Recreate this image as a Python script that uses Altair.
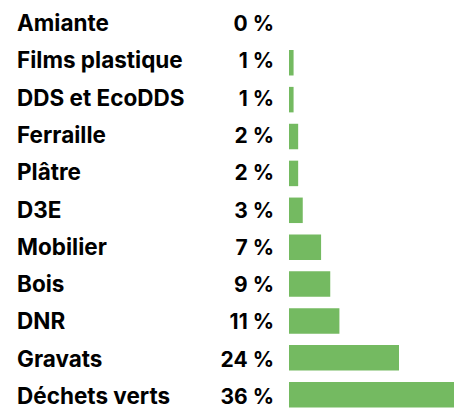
import altair as alt
import pandas as pd

categories = ["Amiante", "Films plastique", "DDS et EcoDDS", "Ferraille", "Plâtre",
              "D3E", "Mobilier", "Bois", "DNR", "Gravats", "Déchets verts"]
values = [0, 1, 1, 2, 2, 3, 7, 9, 11, 24, 36]
labels = ["0 %", "1 %", "1 %", "2 %", "2 %", "3 %", "7 %", "9 %", "11 %", "24 %", "36 %"]

df = pd.DataFrame({"cat": categories, "val": values, "lab": labels})

FONT = "Inter"

bars = alt.Chart(df).mark_bar(color="#74BA61", size=25.5).encode(
    x=alt.X("val:Q", scale=alt.Scale(domain=[0, 36], range=[289, 454]), axis=None),
    y=alt.Y("cat:N", sort=categories, scale=alt.Scale(type="point", range=[25.85, 394.75], padding=0), axis=None),
)

txt_y = alt.Y("cat:N", sort=categories, scale=alt.Scale(type="point", range=[31, 404], padding=0), axis=None)

names = alt.Chart(df).mark_text(align="left", baseline="alphabetic", font=FONT, fontSize=22.5,
                                fontWeight="bold", color="#000000").encode(
    x=alt.value(17), y=txt_y, text="cat:N")

pcts = alt.Chart(df).mark_text(align="right", baseline="alphabetic", font=FONT, fontSize=21,
                               fontWeight="bold", color="#000000").encode(
    x=alt.value(274), y=txt_y, text="lab:N")

chart = alt.layer(bars, names, pcts).resolve_scale(y="independent").properties(
    width=459, height=408, padding=0, autosize=alt.AutoSizeParams(type="none")
).configure_view(stroke=None)

chart.save("out.html", embed_options={"renderer": "svg", "actions": False})
